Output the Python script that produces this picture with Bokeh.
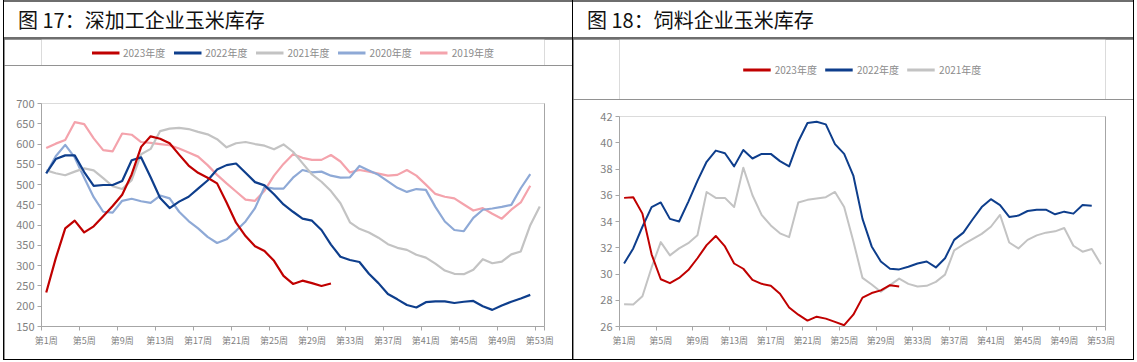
from bokeh.plotting import figure
from bokeh.models import FixedTicker, LinearAxis, Legend, LegendItem, Range1d, Div
from bokeh.layouts import row, column
from bokeh.embed import file_html
from bokeh.resources import INLINE

# ---------------- data ----------------
tick_weeks = [1, 5, 9, 13, 17, 21, 25, 29, 33, 37, 41, 45, 49, 53]
tick_labels = ["第1周", "第5周", "第9周", "第13周", "第17周", "第21周", "第25周",
               "第29周", "第33周", "第37周", "第41周", "第45周", "第49周", "第53周"]

left_title = "图 17：深加工企业玉米库存"
left_names = ["2023年度", "2022年度", "2021年度", "2020年度", "2019年度"]
left_2023 = [234, 318, 392, 411, 382, 397, 422, 447, 475, 525, 593, 619, 613, 602, 574, 547,
             529, 517, 503, 456, 406, 373, 348, 336, 312, 275, 255, 263, 257, 250, 256]
left_2022 = [528, 563, 572, 572, 531, 497, 499, 499, 509, 560, 567, 518, 467, 442, 458, 470,
             490, 510, 537, 548, 552, 529, 506, 498, 476, 451, 433, 416, 411, 388, 352, 322,
             314, 309, 280, 257, 230, 217, 203, 197, 210, 212, 212, 208, 211, 213, 200, 191,
             202, 211, 219, 228]
left_2021 = [535, 528, 523, 532, 540, 535, 516, 496, 489, 511, 575, 588, 632, 638, 640, 637,
             630, 624, 612, 592, 602, 605, 600, 596, 587, 599, 581, 553, 525, 507, 484, 454,
             407, 391, 382, 369, 353, 344, 339, 327, 320, 305, 288, 280, 279, 290, 316, 306,
             310, 328, 335, 400, 446]
left_2020 = [527, 570, 598, 567, 517, 469, 433, 431, 460, 465, 459, 455, 473, 466, 433, 410,
             392, 371, 356, 365, 386, 409, 442, 494, 490, 490, 517, 536, 530, 532, 522, 517,
             518, 546, 535, 524, 508, 492, 482, 489, 487, 445, 409, 388, 385, 418, 438, 441,
             445, 450, 491, 526]
left_2019 = [590, 601, 610, 654, 649, 614, 585, 582, 626, 623, 605, 603, 600, 597, 589, 579,
             569, 548, 524, 503, 483, 463, 460, 485, 522, 551, 575, 566, 561, 561, 573, 557,
             530, 536, 532, 527, 522, 524, 536, 522, 500, 477, 470, 466, 451, 436, 442, 428,
             416, 438, 456, 497]

right_title = "图 18：饲料企业玉米库存"
right_names = ["2023年度", "2022年度", "2021年度"]
right_2023 = [35.8, 35.85, 34.6, 31.5, 29.6, 29.3, 29.7, 30.3, 31.2, 32.2, 32.9, 32.1, 30.8,
              30.4, 29.55, 29.25, 29.1, 28.5, 27.45, 26.9, 26.45, 26.75, 26.6, 26.35, 26.1,
              26.9, 28.2, 28.55, 28.75, 29.15, 29.05]
right_2022 = [30.8, 31.95, 33.6, 35.1, 35.45, 34.2, 34.0, 35.5, 37.1, 38.55, 39.4, 39.2, 38.2,
              39.45, 38.8, 39.15, 39.15, 38.6, 38.2, 40.1, 41.5, 41.6, 41.4, 39.9, 39.15, 37.5,
              34.2, 32.1, 30.95, 30.4, 30.35, 30.55, 30.8, 30.95, 30.5, 31.2, 32.6, 33.15,
              34.15, 35.1, 35.7, 35.25, 34.35, 34.45, 34.8, 34.9, 34.9, 34.55, 34.75, 34.6,
              35.25, 35.2]
right_2021 = [27.7, 27.68, 28.3, 30.5, 32.43, 31.42, 31.95, 32.35, 32.95, 36.25, 35.8, 35.8,
              35.1, 38.1, 36.0, 34.5, 33.7, 33.1, 32.81, 35.45, 35.65, 35.75, 35.85, 36.25,
              35.1, 32.5, 29.7, 29.2, 28.65, 29.15, 29.65, 29.25, 29.05, 29.1, 29.4, 29.95,
              31.8, 32.25, 32.65, 33.06, 33.6, 34.5, 32.4, 31.95, 32.6, 32.94, 33.15, 33.25,
              33.5, 32.15, 31.7, 31.9, 30.75]

# ---------------- styles ----------------
C_RED = "#C00000"
C_BLUE = "#0E3E8C"
C_GRAY = "#C3C3C3"
C_LBLUE = "#8EA9D6"
C_PINK = "#F4A3AC"
AX_C = "#A6A6A6"
LBL_C = "#7F7F7F"
NARROW = "Liberation Sans Narrow, Noto Sans CJK SC"
CJK = "Noto Sans CJK SC"


def make_title(width, height, text, indent):
    return Div(text=text, width=width, height=height, margin=0,
               styles={"background-color": "white", "font-family": CJK,
                       "font-size": "20px", "line-height": f"{height}px",
                       "color": "#111111", "text-indent": f"{indent}px",
                       "white-space": "nowrap", "overflow": "hidden"})


def make_legend_fig(width, height, mbl, mbr, series, ylo, yhi):
    # legend strip above the chart: same series, drawn on a y range that keeps
    # the curves out of view, so that only the legend entries show
    lf = figure(width=width, height=height, output_backend="svg", toolbar_location=None,
                x_range=Range1d(0.5, 53.5), y_range=Range1d(yhi + 1000, yhi + 2000),
                x_axis_type=None, y_axis_type=None, margin=0,
                min_border_left=mbl, min_border_right=mbr,
                min_border_top=0, min_border_bottom=0)
    lf.grid.visible = False
    lf.outline_line_color = None
    lf.outline_line_alpha = 0
    lf.background_fill_color = "white"
    lf.border_fill_color = "white"
    items = []
    for name, ys, color in series:
        xs = list(range(1, len(ys) + 1))
        r = lf.line(xs, ys, line_color=color, line_width=3)
        items.append(LegendItem(label=name, renderers=[r]))
    leg = Legend(items=items, orientation="horizontal", location="center",
                 glyph_width=28, glyph_height=10, label_standoff=4, spacing=8,
                 padding=0, margin=0, border_line_color=None, background_fill_alpha=0,
                 label_text_font=NARROW, label_text_font_size="10px",
                 label_text_color="#8C8C8C", label_height=12)
    lf.add_layout(leg)
    return lf


def make_chart(width, height, ylo, yhi, ystep, series, mb, lw):
    p = figure(width=width, height=height, output_backend="svg", toolbar_location=None,
               x_range=Range1d(0.5, 53.5), y_range=Range1d(ylo, yhi), margin=0,
               min_border_left=mb[0], min_border_right=mb[1],
               min_border_top=mb[2], min_border_bottom=mb[3])
    p.grid.visible = False
    p.outline_line_color = None
    p.background_fill_color = "white"
    p.border_fill_color = "white"

    xa = p.xaxis[0]
    xa.ticker = FixedTicker(ticks=tick_weeks,
                            minor_ticks=[w - 0.5 for w in tick_weeks] + [53.5])
    xa.major_label_overrides = {w: l for w, l in zip(tick_weeks, tick_labels)}
    xa.major_tick_line_color = None
    xa.major_tick_out = 4
    xa.major_tick_in = 0
    xa.minor_tick_out = 4
    xa.minor_tick_in = 0
    xa.minor_tick_line_color = AX_C
    xa.axis_line_color = AX_C
    xa.major_label_text_font = NARROW
    xa.major_label_text_font_size = "9px"
    xa.major_label_text_color = LBL_C
    xa.major_label_standoff = 3

    ya = p.yaxis[0]
    ticks = []
    v = ylo
    while v <= yhi + 1e-9:
        ticks.append(v)
        v += ystep
    ya.ticker = FixedTicker(ticks=ticks)
    ya.minor_tick_line_color = None
    ya.major_tick_out = 4
    ya.major_tick_in = 0
    ya.major_tick_line_color = AX_C
    ya.axis_line_color = AX_C
    ya.major_label_text_font = NARROW
    ya.major_label_text_font_size = "11px"
    ya.major_label_text_color = LBL_C
    ya.major_label_standoff = 3

    ra = LinearAxis(ticker=FixedTicker(ticks=[]), axis_line_color=AX_C,
                    major_tick_line_color=None, minor_tick_line_color=None,
                    major_label_text_font_size="0px")
    p.add_layout(ra, "right")

    for name, ys, color in reversed(series):
        xs = list(range(1, len(ys) + 1))
        p.line(xs, ys, line_color=color, line_width=lw, line_join="round")
    return p


LW, RW = 568, 560
TH = 35

left_series = [(left_names[0], left_2023, C_RED), (left_names[1], left_2022, C_BLUE),
               (left_names[2], left_2021, C_GRAY), (left_names[3], left_2020, C_LBLUE),
               (left_names[4], left_2019, C_PINK)]
right_series = [(right_names[0], right_2023, C_RED), (right_names[1], right_2022, C_BLUE),
                (right_names[2], right_2021, C_GRAY)]

lt = make_title(LW, TH, left_title, 14)
ll = make_legend_fig(LW, 26, 37, 28, left_series, 150, 700)
lc = make_chart(LW, 294, 150, 700, 50, left_series, (37, 28, 38, 33), 2.2)

rt = make_title(RW, TH, right_title, 14)
rl = make_legend_fig(RW, 60, 46, 28, right_series, 26, 42)
rc = make_chart(RW, 260, 26, 42, 2, right_series, (46, 28, 17, 33), 2.0)

left = column(lt, column(ll, lc, spacing=0, margin=0), spacing=2, margin=0,
              styles={"background-color": "#6E6E6E", "padding-top": "2px"})
right = column(rt, column(rl, rc, spacing=0, margin=0), spacing=2, margin=0,
               styles={"background-color": "#6E6E6E", "padding-top": "2px"})
layout = row(left, right, spacing=1, margin=0,
             styles={"background-color": "#000000", "padding": "0px 1px 1px 1px",
                     "margin-left": "3px"})

open("out.html", "w").write(file_html(layout, INLINE))
